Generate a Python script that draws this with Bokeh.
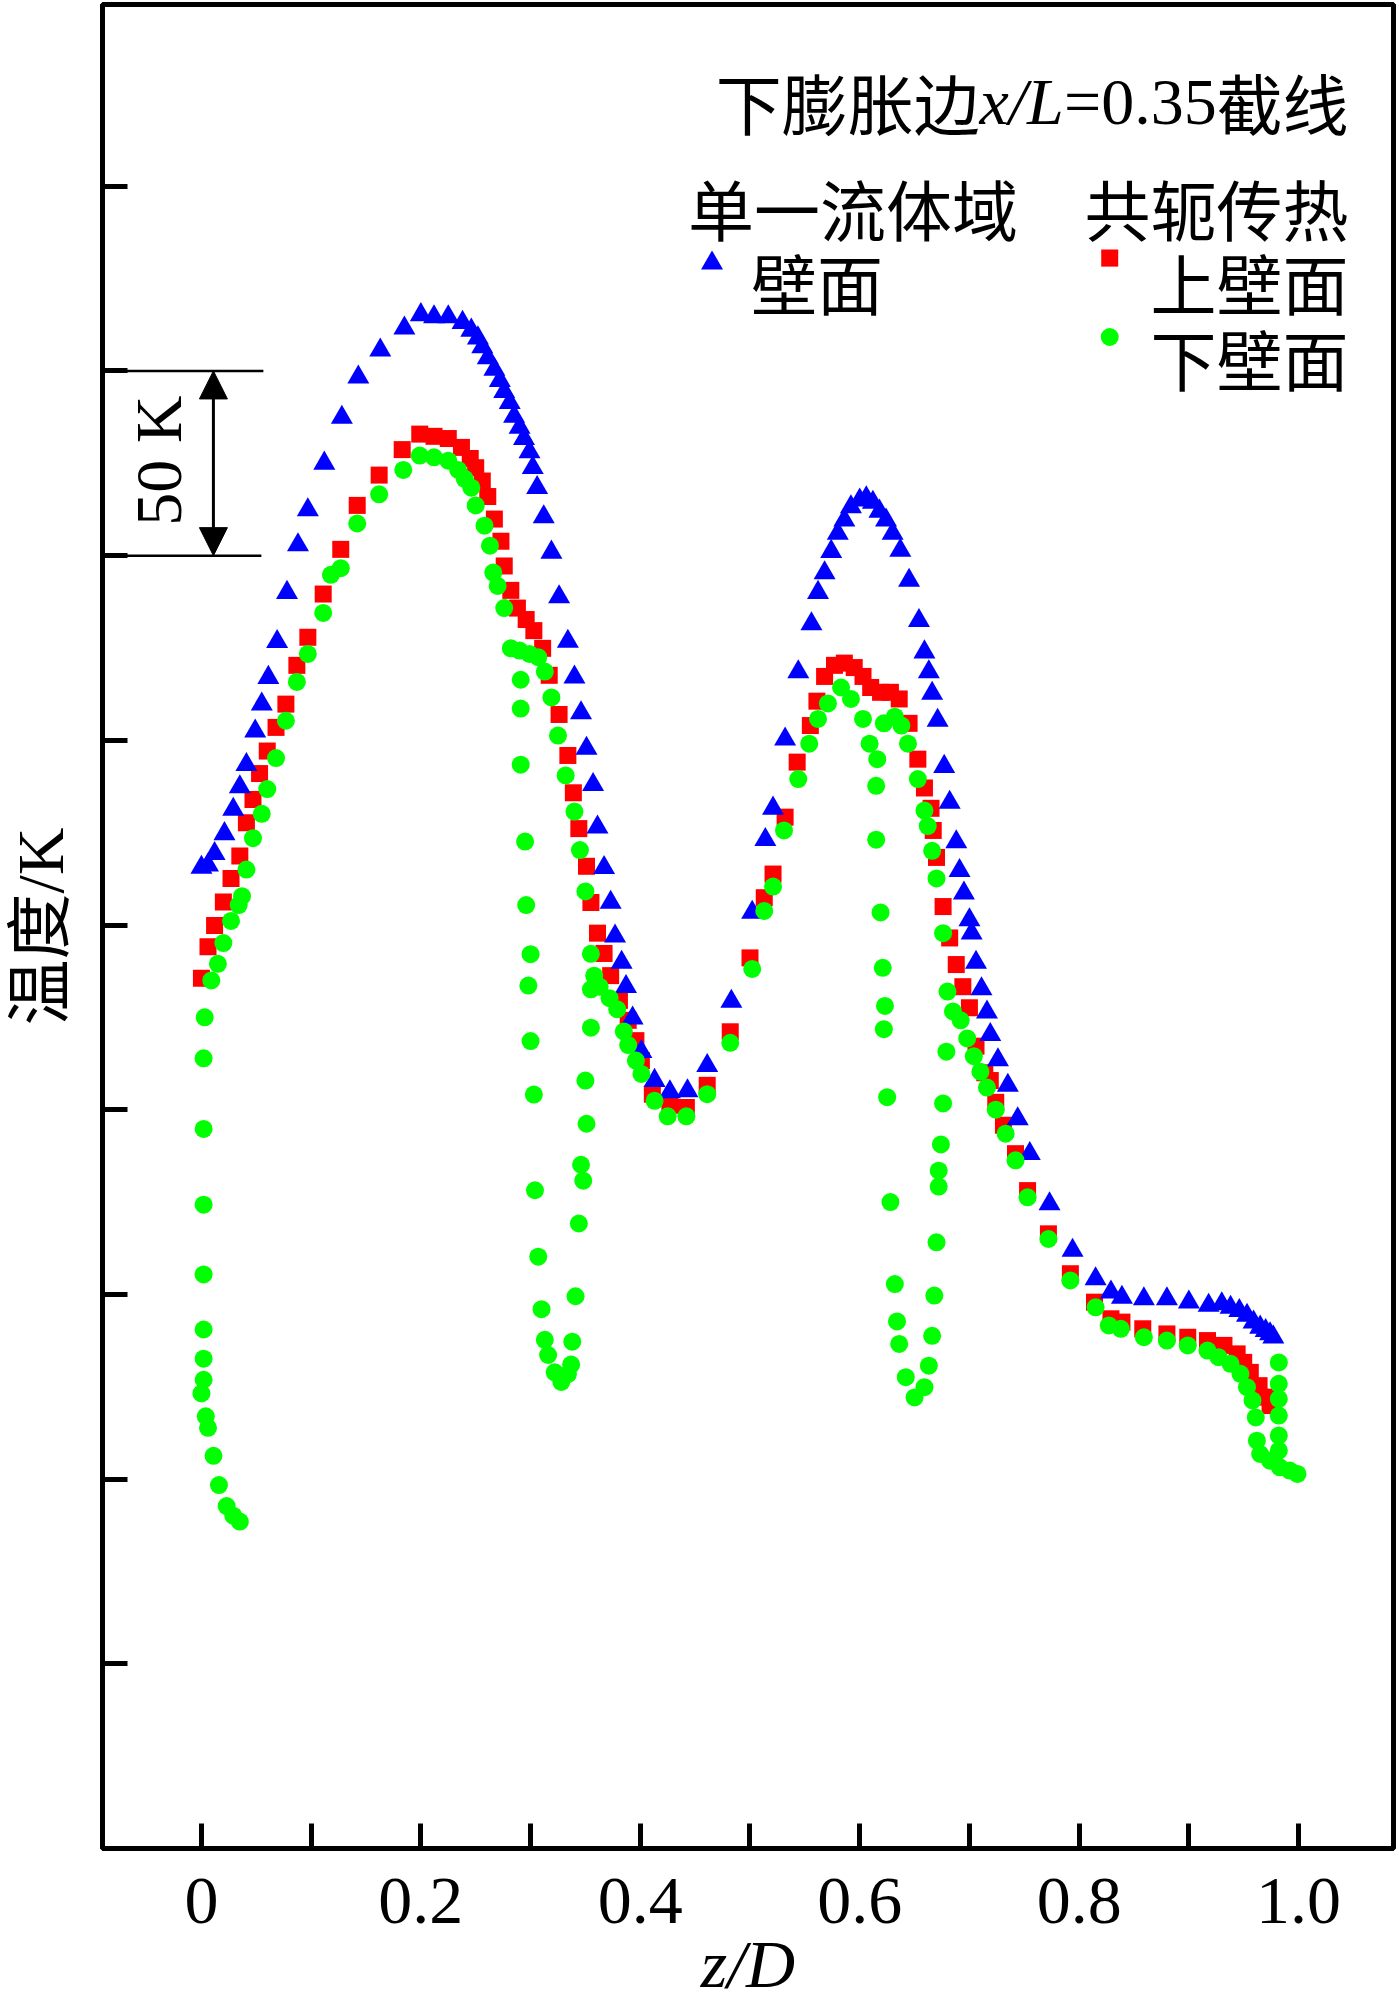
import math
from bokeh.plotting import figure
from bokeh.models import Range1d, FixedTicker, CustomJSTickFormatter, Label, Arrow, NormalHead
from bokeh.embed import file_html
from bokeh.resources import INLINE

# ---------------- data ----------------
# x = z/D ; y = temperature relative to the frame bottom, K (ticks every 50 K, unlabeled)
x_tick_labeled = [0.0, 0.2, 0.4, 0.6, 0.8, 1.0]
x_tick_minor = [0.1, 0.3, 0.5, 0.7, 0.9]
y_ticks = [50, 100, 150, 200, 250, 300, 350, 400, 450]

# 单一流体域 - 壁面 (blue triangles)
blue_x = [0.000, 0.006, 0.012, 0.021, 0.029, 0.035, 0.041, 0.049, 0.055, 0.061,
          0.069, 0.078, 0.088, 0.097, 0.112, 0.128, 0.143, 0.163, 0.185, 0.200,
          0.212, 0.225, 0.238, 0.246, 0.252, 0.256, 0.261, 0.267, 0.272, 0.276,
          0.281, 0.285, 0.290, 0.294, 0.299, 0.302, 0.306, 0.312, 0.319, 0.326,
          0.334, 0.340, 0.346, 0.351, 0.357, 0.361, 0.367, 0.373, 0.377, 0.383,
          0.387, 0.393, 0.401, 0.413, 0.427, 0.443, 0.461, 0.483, 0.502, 0.514,
          0.521, 0.532, 0.544, 0.556, 0.562, 0.568, 0.574, 0.580, 0.586, 0.592,
          0.600, 0.606, 0.612, 0.618, 0.624, 0.630, 0.637, 0.645, 0.654, 0.659,
          0.663, 0.666, 0.671, 0.677, 0.682, 0.688, 0.691, 0.695, 0.700, 0.702,
          0.706, 0.711, 0.716, 0.719, 0.726, 0.735, 0.744, 0.755, 0.773, 0.794,
          0.815, 0.829, 0.839, 0.859, 0.880, 0.900, 0.918, 0.930, 0.938, 0.946,
          0.953, 0.959, 0.965, 0.970, 0.974, 0.977]
blue_y = [265.6, 266.2, 269.3, 274.7, 281.3, 287.4, 293.4, 302.5, 309.8, 317.0,
          326.7, 340.0, 352.9, 362.4, 375.0, 387.4, 398.3, 405.6, 411.6, 415.2,
          414.6, 414.6, 413.1, 411.0, 408.9, 406.5, 403.5, 400.4, 397.4, 394.4,
          391.4, 387.7, 384.7, 381.7, 378.1, 373.8, 368.4, 360.5, 350.9, 338.8,
          326.8, 317.1, 307.4, 297.8, 288.0, 276.5, 265.5, 256.1, 247.0, 239.9,
          233.3, 224.8, 215.7, 207.9, 204.8, 205.1, 211.9, 229.3, 253.4, 273.1,
          281.6, 300.3, 318.5, 331.5, 340.0, 345.3, 351.1, 356.0, 359.6, 363.2,
          365.0, 365.6, 364.4, 362.0, 359.6, 356.0, 351.4, 343.3, 332.4, 323.9,
          318.5, 312.7, 305.4, 292.9, 283.2, 272.5, 264.7, 258.6, 251.4, 247.8,
          239.9, 232.7, 226.4, 220.3, 213.5, 206.6, 197.5, 188.1, 174.5, 161.9,
          154.2, 150.6, 149.2, 148.8, 148.8, 147.9, 147.0, 147.4, 146.5, 145.6,
          144.3, 142.5, 141.1, 140.2, 139.3, 138.4]

# 共轭传热 - 上壁面 (red squares)
red_x = [0.000, 0.006, 0.012, 0.020, 0.027, 0.035, 0.041, 0.047, 0.053, 0.060,
         0.068, 0.077, 0.087, 0.097, 0.111, 0.127, 0.142, 0.162, 0.183, 0.199,
         0.212, 0.225, 0.237, 0.245, 0.250, 0.256, 0.261, 0.267, 0.273, 0.276,
         0.282, 0.288, 0.296, 0.303, 0.311, 0.317, 0.326, 0.334, 0.339, 0.344,
         0.351, 0.355, 0.361, 0.367, 0.373, 0.381, 0.389, 0.396, 0.401, 0.411,
         0.427, 0.442, 0.461, 0.482, 0.500, 0.513, 0.521, 0.532, 0.543, 0.555,
         0.561, 0.568, 0.577, 0.586, 0.595, 0.603, 0.610, 0.619, 0.628, 0.636,
         0.645, 0.653, 0.659, 0.665, 0.667, 0.670, 0.676, 0.682, 0.688, 0.694,
         0.700, 0.706, 0.714, 0.719, 0.724, 0.731, 0.742, 0.753, 0.772, 0.792,
         0.814, 0.829, 0.839, 0.858, 0.880, 0.899, 0.917, 0.932, 0.944, 0.950,
         0.956, 0.964, 0.970, 0.974]
red_y = [235.6, 244.1, 249.9, 256.2, 262.6, 268.7, 277.7, 284.0, 291.0, 297.1,
         303.5, 309.8, 320.3, 327.9, 339.6, 351.7, 363.6, 371.8, 378.7, 382.9,
         382.3, 381.7, 379.3, 376.3, 373.8, 370.2, 366.0, 359.9, 353.9, 347.2,
         340.6, 335.8, 332.7, 329.7, 324.9, 317.6, 307.0, 295.9, 285.8, 276.1,
         265.9, 256.1, 247.8, 242.3, 236.3, 229.6, 224.2, 218.7, 213.3, 204.2,
         201.2, 200.6, 206.6, 221.1, 241.1, 257.4, 263.8, 279.2, 294.1, 304.0,
         310.6, 317.3, 320.3, 320.9, 319.7, 317.3, 314.3, 313.0, 313.0, 311.2,
         304.6, 294.9, 287.1, 281.6, 275.6, 268.3, 255.0, 246.5, 239.3, 233.3,
         227.6, 217.2, 210.0, 207.9, 202.0, 195.8, 188.1, 178.1, 166.4, 155.6,
         147.9, 143.4, 142.5, 140.7, 139.3, 138.4, 137.5, 136.2, 133.9, 131.6,
         128.9, 125.3, 122.2, 119.9]

# 共轭传热 - 下壁面 (green circles)
green_x = [0.035, 0.029, 0.023, 0.016, 0.011, 0.006, 0.004, 0.000, 0.002, 0.002,
           0.002, 0.002, 0.002, 0.002, 0.002, 0.003, 0.009, 0.015, 0.020, 0.027,
           0.034, 0.037, 0.041, 0.047, 0.055, 0.060, 0.068, 0.077, 0.087, 0.097,
           0.111, 0.118, 0.127, 0.142, 0.162, 0.184, 0.199, 0.212, 0.225, 0.234,
           0.240, 0.246, 0.250, 0.258, 0.263, 0.266, 0.270, 0.276, 0.282, 0.290,
           0.299, 0.307, 0.291, 0.291, 0.291, 0.295, 0.296, 0.300, 0.298, 0.300,
           0.303, 0.304, 0.307, 0.310, 0.313, 0.316, 0.322, 0.328, 0.334, 0.337,
           0.338, 0.341, 0.344, 0.346, 0.348, 0.351, 0.350, 0.355, 0.355, 0.313,
           0.319, 0.325, 0.332, 0.340, 0.345, 0.350, 0.355, 0.358, 0.363, 0.372,
           0.379, 0.385, 0.389, 0.396, 0.401, 0.413, 0.425, 0.442, 0.461, 0.482,
           0.502, 0.513, 0.521, 0.531, 0.544, 0.554, 0.562, 0.571, 0.583, 0.592,
           0.603, 0.622, 0.632, 0.638, 0.644, 0.653, 0.659, 0.662, 0.666, 0.670,
           0.676, 0.680, 0.685, 0.692, 0.698, 0.704, 0.710, 0.716, 0.724, 0.733,
           0.742, 0.753, 0.772, 0.792, 0.815, 0.827, 0.838, 0.859, 0.880, 0.899,
           0.917, 0.927, 0.938, 0.947, 0.953, 0.958, 0.961, 0.962, 0.965, 0.974,
           0.983, 0.992, 0.999, 0.982, 0.982, 0.982, 0.982, 0.982, 0.982, 0.609,
           0.616, 0.615, 0.615, 0.619, 0.621, 0.623, 0.622, 0.625, 0.628, 0.632,
           0.634, 0.636, 0.642, 0.650, 0.659, 0.663, 0.666, 0.668, 0.670, 0.672,
           0.672, 0.674, 0.676, 0.679]
green_y = [88.5, 90.1, 92.7, 98.4, 106.3, 113.9, 117.0, 123.2, 126.9, 132.6,
           140.5, 155.4, 174.3, 194.8, 213.9, 225.0, 235.0, 239.5, 245.1, 251.1,
           255.4, 257.8, 265.0, 273.5, 280.1, 286.8, 295.2, 305.3, 315.8, 323.4,
           334.5, 344.8, 346.6, 358.7, 366.6, 373.2, 377.1, 376.6, 375.7, 373.2,
           370.8, 368.4, 363.6, 358.1, 352.7, 345.4, 341.8, 335.8, 324.9, 324.3,
           323.4, 322.5, 316.4, 308.6, 293.4, 272.6, 255.4, 242.1, 233.6, 218.6,
           204.1, 178.2, 160.2, 146.0, 137.7, 133.6, 128.9, 126.3, 128.4, 131.0,
           137.2, 149.5, 169.2, 185.1, 180.8, 196.2, 207.9, 222.2, 232.6, 318.6,
           311.6, 301.3, 290.5, 280.7, 270.3, 259.1, 242.2, 236.3, 233.3, 230.2,
           227.2, 221.2, 217.5, 213.3, 209.7, 202.4, 198.2, 198.2, 204.2, 218.1,
           238.1, 253.8, 260.4, 275.6, 289.5, 299.1, 305.8, 310.0, 314.3, 311.2,
           305.8, 304.6, 306.4, 304.0, 299.1, 289.5, 281.0, 276.8, 270.1, 262.6,
           247.8, 232.0, 226.6, 224.2, 219.3, 214.5, 210.3, 206.0, 200.0, 193.5,
           186.3, 176.3, 165.0, 153.8, 146.5, 141.6, 140.7, 138.4, 137.5, 136.2,
           134.8, 133.0, 131.2, 128.5, 124.9, 121.3, 116.7, 110.4, 106.8, 105.0,
           103.2, 102.3, 101.4, 131.6, 125.8, 121.7, 117.2, 111.8, 107.7, 299.1,
           294.9, 287.7, 273.1, 253.4, 238.4, 228.1, 221.8, 203.4, 175.0, 152.8,
           142.7, 136.6, 127.6, 122.1, 124.9, 130.7, 138.8, 149.7, 164.1, 179.2,
           183.5, 190.6, 201.7, 215.7]

# ---------------- styling ----------------
SERIF = "Liberation Serif"
CJK = "Noto Sans CJK SC"
MIXED = "Liberation Serif, Noto Sans CJK SC"
BLUE, RED, GREEN = "#0000FF", "#FF0000", "#00FF00"

W, H = 1399, 2004
p = figure(width=W, height=H, x_range=Range1d(-0.09016, 1.08652), y_range=Range1d(0, 499.2),
           output_backend="svg", toolbar_location=None,
           min_border_left=101, min_border_right=6, min_border_top=4, min_border_bottom=153)
p.grid.visible = False
p.outline_line_color = "black"
p.outline_line_width = 5
p.background_fill_color = "white"
p.border_fill_color = "white"

xa = p.xaxis[0]
xa.ticker = FixedTicker(ticks=x_tick_labeled, minor_ticks=x_tick_minor)
xa.formatter = CustomJSTickFormatter(code="return Math.abs(tick) < 1e-9 ? '0' : tick.toFixed(1);")
xa.major_label_text_font = SERIF
xa.major_label_text_font_size = "68px"
xa.major_label_text_color = "black"
xa.major_label_standoff = 30
xa.axis_line_width = 5
xa.axis_line_color = "black"
xa.major_tick_in = 25
xa.major_tick_out = 0
xa.major_tick_line_width = 5
xa.minor_tick_in = 25
xa.minor_tick_out = 0
xa.minor_tick_line_width = 5
xa.axis_label = "z/D"
xa.axis_label_text_font = SERIF
xa.axis_label_text_font_size = "68px"
xa.axis_label_text_font_style = "italic"
xa.axis_label_text_color = "black"
xa.axis_label_standoff = 0

ya = p.yaxis[0]
ya.ticker = FixedTicker(ticks=y_ticks, minor_ticks=[])
ya.formatter = CustomJSTickFormatter(code="return '';")
ya.major_label_standoff = 0
ya.axis_line_width = 5
ya.axis_line_color = "black"
ya.major_tick_in = 25
ya.major_tick_out = 0
ya.major_tick_line_width = 5
ya.minor_tick_in = 0
ya.minor_tick_out = 0
ya.axis_label = "温度/K"
ya.axis_label_text_font = MIXED
ya.axis_label_text_font_size = "66px"
ya.axis_label_text_font_style = "normal"
ya.axis_label_text_color = "black"
ya.axis_label_standoff = 26

# data marks
p.scatter(red_x, red_y, marker="square", size=17, fill_color=RED, line_color=None)
p.scatter(blue_x, blue_y, marker="triangle", size=22, fill_color=BLUE, line_color=None)
p.scatter(green_x, green_y, marker="circle", size=18, fill_color=GREEN, line_color=None)


# helpers: page-pixel position -> data coords (for annotations only)
def px_x(px):
    return (px - 200.0) / 1098.0


def px_y(py):
    return (1851.0 - py) / 3.70


def label(text, x, y, font, size="66px", align="left", baseline="alphabetic", style="normal", angle=0.0):
    p.add_layout(Label(x=x, y=y, text=text, text_font=font, text_font_size=size,
                       text_align=align, text_baseline=baseline, text_font_style=style,
                       text_color="black", angle=angle))


# 50 K bracket
BR_TOP, BR_BOT = 400, 350
p.add_layout(Arrow(x_start=-0.09016, y_start=BR_TOP, x_end=px_x(262), y_end=BR_TOP,
                   start=None, end=None, line_width=2.5, line_color="black"))
p.add_layout(Arrow(x_start=-0.09016, y_start=BR_BOT, x_end=px_x(260), y_end=BR_BOT,
                   start=None, end=None, line_width=2.5, line_color="black"))
p.add_layout(Arrow(x_start=px_x(212), y_start=BR_BOT, x_end=px_x(212), y_end=BR_TOP,
                   start=NormalHead(size=28, fill_color="black", line_color="black"),
                   end=NormalHead(size=28, fill_color="black", line_color="black"),
                   line_width=3, line_color="black"))
label("50 K", px_x(157), px_y(461), SERIF, size="66px", align="center", baseline="middle",
      angle=math.pi / 2)

# title line (right aligned pieces)
TY = px_y(101)
label("截线", px_x(1348), TY, CJK, align="right")
label("=0.35", px_x(1216), TY, SERIF, align="right")
label("x/L", px_x(1063), TY, SERIF, align="right", style="italic")
label("下膨胀边", px_x(979), TY, CJK, align="right")

# legend
label("单一流体域", px_x(687), px_y(207), CJK, align="left")
label("共轭传热", px_x(1348), px_y(207), CJK, align="right")
label("壁面", px_x(750), px_y(281), CJK, align="left")
label("上壁面", px_x(1348), px_y(281), CJK, align="right")
label("下壁面", px_x(1348), px_y(357), CJK, align="right")
p.scatter([px_x(711)], [px_y(263)], marker="triangle", size=22, fill_color=BLUE, line_color=None)
p.scatter([px_x(1109)], [px_y(258)], marker="square", size=17, fill_color=RED, line_color=None)
p.scatter([px_x(1109)], [px_y(337)], marker="circle", size=18, fill_color=GREEN, line_color=None)

open("out.html", "w").write(file_html(p, INLINE))
